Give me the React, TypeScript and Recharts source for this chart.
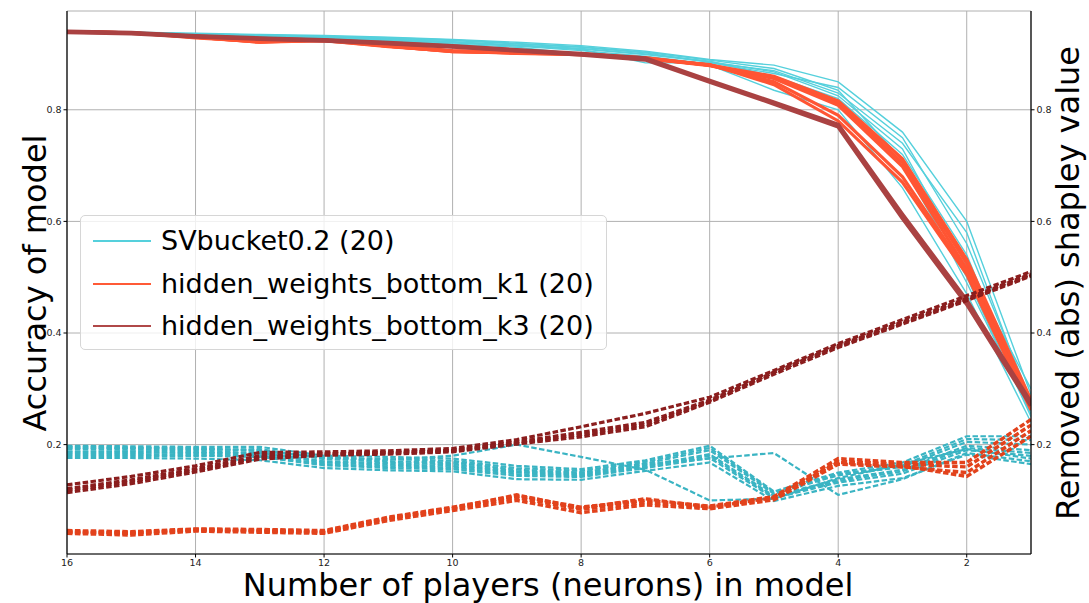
import { CartesianGrid, Line, LineChart, XAxis, YAxis } from "recharts";

// number of players (neurons) left in the model, plotted right-to-left
const PLAYERS = [16, 15, 14, 13, 12, 11, 10, 9, 8, 7, 6, 5, 4, 3, 2, 1];

// accuracy of model (solid, left axis)
const svAccuracy = [
  [0.940, 0.939, 0.937, 0.935, 0.933, 0.930, 0.926, 0.921, 0.915, 0.905, 0.890, 0.880, 0.850, 0.760, 0.600, 0.290],
  [0.940, 0.938, 0.936, 0.934, 0.931, 0.928, 0.924, 0.918, 0.912, 0.902, 0.885, 0.870, 0.830, 0.740, 0.580, 0.270],
  [0.939, 0.938, 0.935, 0.933, 0.930, 0.927, 0.922, 0.916, 0.910, 0.900, 0.887, 0.860, 0.820, 0.720, 0.540, 0.260],
  [0.940, 0.937, 0.935, 0.932, 0.929, 0.925, 0.920, 0.914, 0.906, 0.896, 0.882, 0.855, 0.810, 0.700, 0.500, 0.250],
  [0.939, 0.937, 0.934, 0.931, 0.928, 0.924, 0.918, 0.912, 0.900, 0.890, 0.880, 0.835, 0.800, 0.660, 0.470, 0.240],
  [0.940, 0.938, 0.936, 0.933, 0.930, 0.926, 0.921, 0.915, 0.908, 0.884, 0.884, 0.865, 0.840, 0.750, 0.560, 0.280],
  [0.940, 0.938, 0.935, 0.933, 0.930, 0.926, 0.921, 0.915, 0.909, 0.899, 0.886, 0.868, 0.825, 0.730, 0.520, 0.300],
  [0.940, 0.939, 0.936, 0.934, 0.932, 0.929, 0.925, 0.919, 0.913, 0.903, 0.889, 0.874, 0.835, 0.710, 0.490, 0.255],
];
const k1Accuracy = [
  [0.940, 0.938, 0.930, 0.921, 0.925, 0.914, 0.904, 0.902, 0.900, 0.893, 0.880, 0.858, 0.812, 0.705, 0.525, 0.275],
  [0.940, 0.938, 0.929, 0.922, 0.924, 0.913, 0.905, 0.901, 0.899, 0.892, 0.879, 0.856, 0.808, 0.698, 0.515, 0.268],
  [0.940, 0.937, 0.931, 0.923, 0.925, 0.915, 0.906, 0.903, 0.900, 0.891, 0.881, 0.845, 0.780, 0.670, 0.505, 0.262],
  [0.940, 0.938, 0.930, 0.921, 0.924, 0.914, 0.904, 0.902, 0.899, 0.893, 0.880, 0.850, 0.790, 0.680, 0.510, 0.270],
  [0.940, 0.938, 0.930, 0.922, 0.925, 0.914, 0.905, 0.902, 0.900, 0.892, 0.880, 0.860, 0.816, 0.712, 0.532, 0.280],
];
const k3Accuracy = [
  [0.940, 0.938, 0.932, 0.928, 0.925, 0.920, 0.914, 0.907, 0.900, 0.892, 0.852, 0.813, 0.773, 0.612, 0.458, 0.275],
  [0.939, 0.937, 0.931, 0.927, 0.924, 0.919, 0.913, 0.906, 0.899, 0.890, 0.850, 0.811, 0.770, 0.606, 0.452, 0.270],
];

// removed (abs) shapley value (dashed, right axis)
const svShapley = [
  [0.198, 0.197, 0.196, 0.196, 0.180, 0.178, 0.175, 0.162, 0.156, 0.172, 0.198, 0.116, 0.150, 0.168, 0.215, 0.215],
  [0.192, 0.191, 0.190, 0.192, 0.174, 0.170, 0.168, 0.155, 0.150, 0.166, 0.190, 0.112, 0.145, 0.160, 0.205, 0.200],
  [0.186, 0.186, 0.185, 0.185, 0.168, 0.164, 0.162, 0.150, 0.146, 0.162, 0.183, 0.108, 0.138, 0.155, 0.198, 0.190],
  [0.180, 0.180, 0.180, 0.178, 0.163, 0.158, 0.156, 0.144, 0.142, 0.158, 0.176, 0.104, 0.132, 0.148, 0.190, 0.180],
  [0.176, 0.176, 0.175, 0.172, 0.158, 0.154, 0.152, 0.138, 0.137, 0.153, 0.168, 0.099, 0.126, 0.140, 0.182, 0.165],
  [0.195, 0.194, 0.193, 0.190, 0.176, 0.173, 0.180, 0.200, 0.178, 0.155, 0.100, 0.103, 0.140, 0.165, 0.192, 0.175],
  [0.188, 0.188, 0.187, 0.186, 0.170, 0.167, 0.165, 0.152, 0.148, 0.165, 0.175, 0.185, 0.110, 0.138, 0.185, 0.170],
  [0.183, 0.183, 0.182, 0.181, 0.165, 0.161, 0.159, 0.147, 0.144, 0.160, 0.180, 0.106, 0.135, 0.152, 0.194, 0.185],
  [0.195, 0.194, 0.193, 0.189, 0.177, 0.174, 0.171, 0.158, 0.153, 0.169, 0.194, 0.114, 0.147, 0.163, 0.210, 0.208],
];
const k1Shapley = [
  [0.046, 0.044, 0.049, 0.048, 0.046, 0.070, 0.088, 0.108, 0.088, 0.100, 0.090, 0.107, 0.175, 0.168, 0.168, 0.245],
  [0.043, 0.041, 0.047, 0.045, 0.043, 0.067, 0.085, 0.105, 0.084, 0.096, 0.087, 0.104, 0.170, 0.165, 0.160, 0.235],
  [0.041, 0.038, 0.045, 0.043, 0.041, 0.064, 0.082, 0.100, 0.078, 0.092, 0.085, 0.101, 0.165, 0.160, 0.150, 0.225],
  [0.044, 0.042, 0.048, 0.046, 0.044, 0.068, 0.086, 0.110, 0.086, 0.103, 0.088, 0.105, 0.168, 0.162, 0.143, 0.215],
];
const k3Shapley = [
  [0.128, 0.143, 0.162, 0.186, 0.187, 0.189, 0.193, 0.209, 0.232, 0.256, 0.285, 0.333, 0.381, 0.424, 0.467, 0.510],
  [0.121, 0.137, 0.157, 0.180, 0.184, 0.186, 0.190, 0.205, 0.222, 0.240, 0.280, 0.329, 0.378, 0.420, 0.462, 0.506],
  [0.114, 0.130, 0.151, 0.174, 0.181, 0.183, 0.187, 0.201, 0.214, 0.232, 0.276, 0.326, 0.374, 0.416, 0.458, 0.502],
  [0.118, 0.134, 0.154, 0.177, 0.183, 0.185, 0.189, 0.203, 0.218, 0.236, 0.278, 0.330, 0.376, 0.418, 0.460, 0.504],
];

const X_TICKS = [16, 14, 12, 10, 8, 6, 4, 2];
const Y_TICKS = [0.2, 0.4, 0.6, 0.8];

const LEGEND = [
  { name: "SVbucket0.2 (20)", color: "#55d0dc" },
  { name: "hidden_weights_bottom_k1 (20)", color: "#ff5a36" },
  { name: "hidden_weights_bottom_k3 (20)", color: "#b04848" },
];

type Group = {
  key: string;
  rows: number[][];
  axis: "left" | "right";
  color: string;
  width: number;
  dash?: string;
};

const GROUPS: Group[] = [
  { key: "svAcc", rows: svAccuracy, axis: "left", color: "#55d0dc", width: 1.4 },
  { key: "svShap", rows: svShapley, axis: "right", color: "#3ab4c3", width: 2.2, dash: "5.5 2.4" },
  { key: "k1Acc", rows: k1Accuracy, axis: "left", color: "#ff5533", width: 3.2 },
  { key: "k1Shap", rows: k1Shapley, axis: "right", color: "#e2421c", width: 3.4, dash: "5.5 2.4" },
  { key: "k3Acc", rows: k3Accuracy, axis: "left", color: "#aa4242", width: 4.2 },
  { key: "k3Shap", rows: k3Shapley, axis: "right", color: "#8b1e1e", width: 3.2, dash: "5.5 2.4" },
];

const data = PLAYERS.map((x, i) => {
  const row: Record<string, number> = { x };
  GROUPS.forEach((g) => {
    g.rows.forEach((r, j) => {
      row[`${g.key}${j}`] = r[i];
    });
  });
  return row;
});

const FONT = "'DejaVu Sans', sans-serif";
const tickStyle = { fontSize: 9.5, fill: "#222", fontFamily: FONT };
const Y_DOMAIN = [0.004, 0.977];

const titleStyle = {
  position: "absolute" as const,
  fontSize: 32,
  lineHeight: "32px",
  whiteSpace: "nowrap" as const,
  color: "#000",
};

export default function App() {
  return (
    <div
      style={{
        position: "absolute",
        left: 0,
        top: 0,
        width: 1089,
        height: 603,
        background: "#fff",
        fontFamily: FONT,
      }}
    >
      <LineChart
        width={1089}
        height={603}
        data={data}
        margin={{ top: 11, right: 0, left: 0, bottom: 0 }}
      >
        <CartesianGrid stroke="#b0b0b0" strokeWidth={1} yAxisId="left" />
        <XAxis
          dataKey="x"
          type="number"
          domain={[1, 16]}
          reversed
          allowDataOverflow
          ticks={X_TICKS}
          tick={tickStyle}
          tickSize={3.5}
          tickLine={{ stroke: "#000" }}
          axisLine={{ stroke: "#000", strokeWidth: 1.2 }}
          height={49}
        />
        <XAxis
          xAxisId="top"
          orientation="top"
          type="number"
          domain={[1, 16]}
          reversed
          tick={false}
          tickLine={false}
          axisLine={{ stroke: "#000", strokeWidth: 1.2 }}
          height={0}
        />
        <YAxis
          yAxisId="left"
          orientation="left"
          type="number"
          domain={Y_DOMAIN}
          allowDataOverflow
          ticks={Y_TICKS}
          tickFormatter={(v: number) => v.toFixed(1)}
          tick={tickStyle}
          tickSize={3.5}
          tickLine={{ stroke: "#000" }}
          axisLine={{ stroke: "#000", strokeWidth: 1.2 }}
          width={67}
        />
        <YAxis
          yAxisId="right"
          orientation="right"
          type="number"
          domain={Y_DOMAIN}
          allowDataOverflow
          ticks={Y_TICKS}
          tickFormatter={(v: number) => v.toFixed(1)}
          tick={tickStyle}
          tickSize={3.5}
          tickLine={{ stroke: "#000" }}
          axisLine={{ stroke: "#000", strokeWidth: 1.2 }}
          width={58}
        />
        {GROUPS.flatMap((g) =>
          g.rows.map((_, j) => (
            <Line
              key={`${g.key}${j}`}
              dataKey={`${g.key}${j}`}
              yAxisId={g.axis}
              type="linear"
              stroke={g.color}
              strokeWidth={g.width}
              strokeDasharray={g.dash}
              dot={false}
              activeDot={false}
              isAnimationActive={false}
            />
          )),
        )}
      </LineChart>

      {/* axis titles */}
      <div
        style={{
          ...titleStyle,
          left: 35,
          top: 283,
          transform: "translate(-50%, -50%) rotate(-90deg)",
        }}
      >
        Accuracy of model
      </div>
      <div
        style={{
          ...titleStyle,
          left: 1068,
          top: 283,
          transform: "translate(-50%, -50%) rotate(-90deg)",
        }}
      >
        Removed (abs) shapley value
      </div>
      <div
        style={{
          ...titleStyle,
          left: 548,
          top: 585,
          transform: "translate(-50%, -50%)",
        }}
      >
        Number of players (neurons) in model
      </div>

      {/* legend */}
      <div
        style={{
          position: "absolute",
          left: 80,
          top: 215,
          width: 527,
          height: 135,
          boxSizing: "border-box",
          border: "1px solid #d6d6d6",
          borderRadius: 5,
          background: "rgba(255,255,255,0.8)",
        }}
      >
        {LEGEND.map((l, i) => (
          <div
            key={l.name}
            style={{
              position: "absolute",
              left: 12,
              top: 25 + i * 42.5,
              transform: "translateY(-50%)",
              display: "flex",
              alignItems: "center",
              whiteSpace: "nowrap",
            }}
          >
            <span
              style={{
                display: "inline-block",
                width: 58,
                height: 2,
                background: l.color,
                marginRight: 10,
              }}
            />
            <span style={{ fontSize: 27, lineHeight: "30px", color: "#000" }}>
              {l.name}
            </span>
          </div>
        ))}
      </div>
    </div>
  );
}
